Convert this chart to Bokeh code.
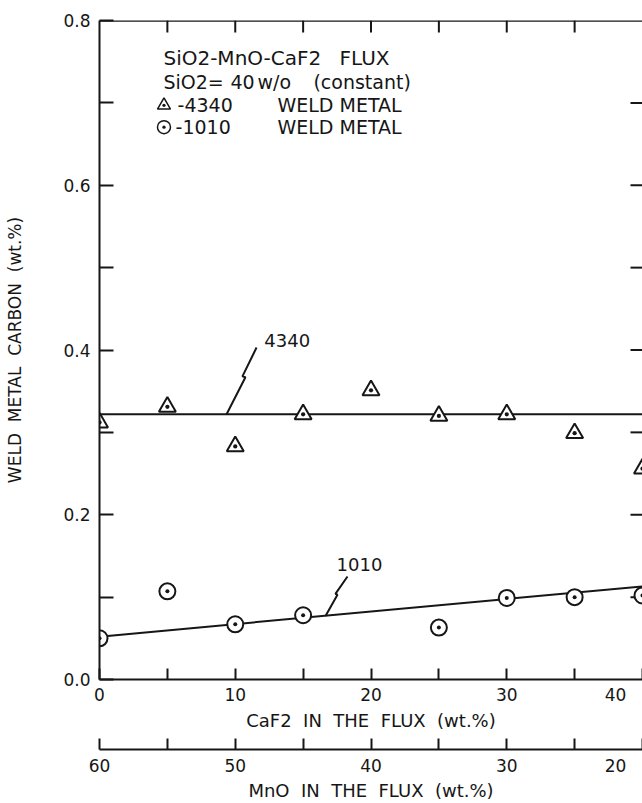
from bokeh.plotting import figure
from bokeh.models import Range1d, LinearAxis, FixedTicker, NumeralTickFormatter, Label
from bokeh.embed import file_html
from bokeh.resources import INLINE

# ---- measured weld metal carbon (wt.%) vs CaF2 in the flux (wt.%) ----
caf2_4340 = [0, 5, 10, 15, 20, 25, 30, 35, 40]
carbon_4340 = [0.312, 0.331, 0.283, 0.322, 0.351, 0.320, 0.322, 0.299, 0.256]
caf2_1010 = [0, 5, 10, 15, 25, 30, 35, 40]
carbon_1010 = [0.050, 0.107, 0.067, 0.078, 0.063, 0.099, 0.100, 0.102]

# ---- fitted trend lines ----
fit_x = [0, 40]
fit_4340 = [0.322, 0.322]
fit_1010 = [0.052, 0.113]

# ---- axis ticks ----
caf2_ticks = [0, 10, 20, 30, 40]
caf2_minor = [5, 15, 25, 35]
mno_ticks = [60, 50, 40, 30, 20]
mno_minor = [55, 45, 35, 25]
carbon_ticks = [0.0, 0.2, 0.4, 0.6, 0.8]
carbon_minor = [0.1, 0.3, 0.5, 0.7]

FONT = "DejaVu Sans"
INK = "#161616"
NB = "\u00a0"
FRAME_W, FRAME_H = 543, 661

p = figure(width=642, height=803, x_range=Range1d(0, 40), y_range=Range1d(0, 0.8),
           output_backend="svg", toolbar_location=None,
           x_axis_location=None, y_axis_location=None,
           min_border_left=99, min_border_right=0, min_border_top=20, min_border_bottom=0)
p.outline_line_color = None
p.background_fill_color = "white"
p.border_fill_color = "white"
p.grid.visible = False
p.extra_x_ranges = {"mno": Range1d(60, 20)}


def style_axis(ax, tick_len, label_size="17px", title_size="18px"):
    ax.axis_line_color = INK
    ax.axis_line_width = 2
    ax.major_tick_line_color = INK
    ax.major_tick_line_width = 2
    ax.minor_tick_line_color = INK
    ax.minor_tick_line_width = 2
    ax.major_tick_in = tick_len
    ax.major_tick_out = 0
    ax.minor_tick_in = tick_len
    ax.minor_tick_out = 0
    ax.major_label_text_font = FONT
    ax.major_label_text_font_size = label_size
    ax.major_label_text_color = INK
    ax.axis_label_text_font = FONT
    ax.axis_label_text_font_size = title_size
    ax.axis_label_text_font_style = "normal"
    ax.axis_label_text_color = INK


def spaced(*words):
    return (" " + NB).join(words)


# carbon axis (left)
yax = LinearAxis(ticker=FixedTicker(ticks=carbon_ticks, minor_ticks=carbon_minor),
                 formatter=NumeralTickFormatter(format="0.0"),
                 axis_label=spaced("WELD", "METAL", "CARBON", "(wt.%)"))
style_axis(yax, 14, title_size="17px")
yax.major_label_standoff = 9
yax.axis_label_standoff = 35
p.add_layout(yax, "left")

# CaF2 axis (first bottom scale); the title's second line keeps room above the MnO scale
xax = LinearAxis(ticker=FixedTicker(ticks=caf2_ticks, minor_ticks=caf2_minor),
                 axis_label=spaced("CaF2", "IN", "THE", "FLUX", "(wt.%)") + "\n" + NB,
                 major_label_overrides={40: "40" + NB * 3})
style_axis(xax, 11)
xax.axis_label_text_line_height = 0.76
xax.major_label_standoff = 5
xax.axis_label_standoff = 2
p.add_layout(xax, "below")

# MnO axis (second bottom scale, MnO = 60 - CaF2)
max_ = LinearAxis(x_range_name="mno",
                  ticker=FixedTicker(ticks=mno_ticks, minor_ticks=mno_minor),
                  axis_label=spaced("MnO", "IN", "THE", "FLUX", "(wt.%)"),
                  major_label_overrides={20: "20" + NB * 3})
style_axis(max_, 11)
max_.major_label_standoff = 6
max_.axis_label_standoff = 1
p.add_layout(max_, "below")

# inward ticks along the top and right frame edges
x_end, y_end = p.x_range.end, p.y_range.end
x_unit = FRAME_W / (p.x_range.end - p.x_range.start)
y_unit = FRAME_H / (p.y_range.end - p.y_range.start)
top_ticks = caf2_minor + caf2_ticks[1:-1]
right_ticks = carbon_minor + carbon_ticks[1:-1]
p.segment(x0=top_ticks, x1=top_ticks, y0=[y_end] * len(top_ticks),
          y1=[y_end - 12 / y_unit] * len(top_ticks), line_color=INK, line_width=2)
p.segment(x0=[x_end] * len(right_ticks), x1=[x_end - 12 / x_unit] * len(right_ticks),
          y0=right_ticks, y1=right_ticks, line_color=INK, line_width=2)
p.segment(x0=[0], x1=[x_end], y0=[y_end], y1=[y_end], line_color=INK, line_width=2.5)

# trend lines
p.line(fit_x, fit_4340, line_color=INK, line_width=2)
p.line(fit_x, fit_1010, line_color=INK, line_width=2)

# data points
p.scatter(caf2_4340, carbon_4340, marker="triangle_dot", size=17, line_color=INK,
          line_width=2, fill_color="white")
p.scatter(caf2_1010, carbon_1010, marker="circle_dot", size=16, line_color=INK,
          line_width=2, fill_color="white")

# callout leaders with a break mark
leader_4340_x = [9.36, 10.75, 10.53, 11.57]
leader_4340_y = [0.322, 0.367, 0.368, 0.403]
leader_1010_x = [16.65, 17.53, 17.38, 18.27]
leader_1010_y = [0.077, 0.103, 0.104, 0.125]
p.line(leader_4340_x, leader_4340_y, line_color=INK, line_width=2)
p.line(leader_1010_x, leader_1010_y, line_color=INK, line_width=2)


def note(x, y, txt, size="18px", align="left"):
    p.add_layout(Label(x=x, y=y, text=txt, text_font=FONT, text_font_size=size,
                       text_color=INK, text_align=align, text_baseline="middle"))


note(13.83, 0.412, "4340", align="center")
note(19.15, 0.140, "1010", align="center")

# key block
KEY = "19px"
note(4.71, 0.754, "SiO2-MnO-CaF2", size="20px")
note(17.68, 0.754, "FLUX", size="20px")
for x, y, txt in [
    (4.71, 0.725, "SiO2="), (9.65, 0.725, "40"), (11.64, 0.725, "w/o"),
    (15.76, 0.725, "(constant)"),
    (5.75, 0.697, "-4340"), (13.11, 0.697, "WELD METAL"),
    (5.60, 0.6705, "-1010"), (13.11, 0.6705, "WELD METAL"),
]:
    note(x, y, txt, size=KEY)
p.scatter([4.75], [0.697], marker="triangle_dot", size=13, line_color=INK,
          line_width=1.5, fill_color="white")
p.scatter([4.75], [0.6705], marker="circle_dot", size=13, line_color=INK,
          line_width=1.5, fill_color="white")

open("out.html", "w").write(file_html(p, INLINE))
